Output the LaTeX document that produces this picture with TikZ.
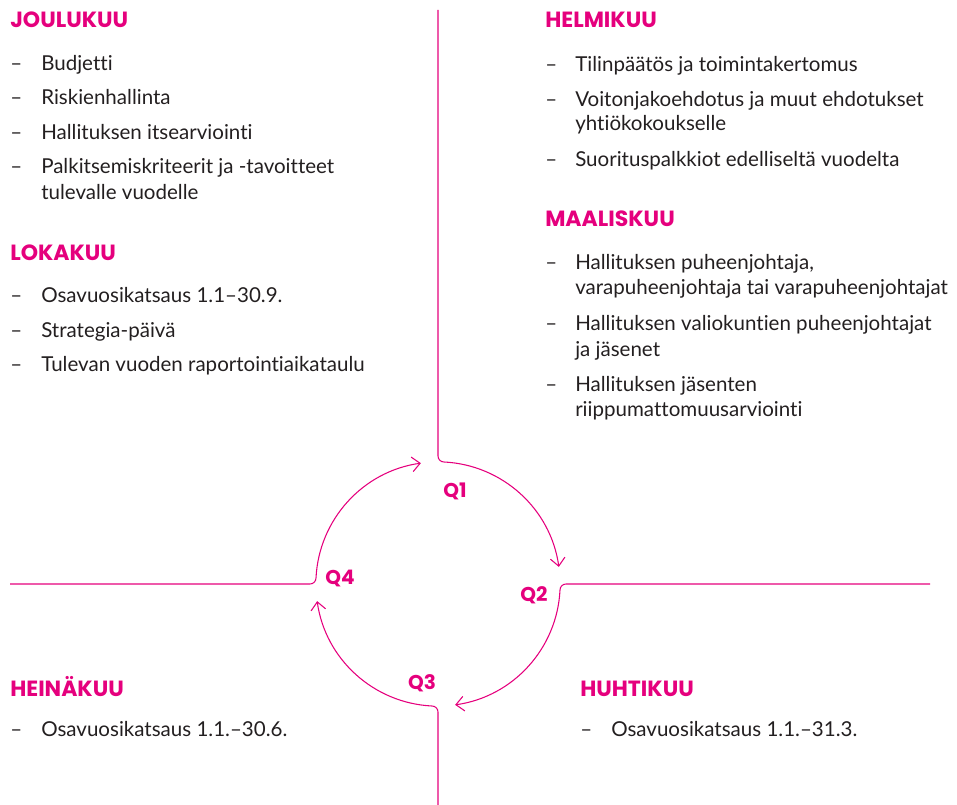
\documentclass[tikz,border=0pt]{standalone}
\usepackage{fontspec}
\setmainfont{Lato}[Ligatures=NoCommon]
\newfontfamily\hfont{Poppins}
\usetikzlibrary{arrows.meta}
\definecolor{mag}{HTML}{E5007D}
\definecolor{txt}{HTML}{231F20}
\newcommand{\quadrant}[3]{% rotation, line length (px from centre), arrow end angle
  \begin{scope}[rotate=#1]
    \draw[ring,-{Straight Barb[length=6pt,width=11pt,line width=0.8pt]}]
      (0,#2) -- (0,128) arc[start angle=180,end angle=270,radius=4.5pt]
      arc[start angle=87.2,end angle=#3,radius=91.5pt];
  \end{scope}}
\begin{document}
\begin{tikzpicture}[x=0.75pt,y=0.75pt,
  head/.style={anchor=base west,inner sep=0,text=mag,font=\hfont\bfseries\fontsize{16.5}{18}\selectfont},
  item/.style={anchor=base west,inner sep=0,text=txt,font=\fontsize{15.4}{17}\selectfont},
  ql/.style={inner sep=0,text=mag,font=\hfont\bfseries\fontsize{15}{17}\selectfont},
  ring/.style={draw=mag,line width=0.8pt}]
\useasboundingbox (0,0) rectangle (957,-805);

% ---- left top
\node[head] (jh) at (10,-28) {JOULUKUU};
\node[item] (j1d) at (10,-71) {–};  \node[item] (j1) at (41,-71) {Budjetti};
\node[item] (j2d) at (10,-105) {–}; \node[item] (j2) at (41,-105) {Riskienhallinta};
\node[item] (j3d) at (10,-140) {–}; \node[item] (j3) at (41,-140) {Hallituksen itsearviointi};
\node[item] (j4d) at (10,-174) {–}; \node[item] (j4) at (41,-174) {Palkitsemiskriteerit ja -tavoitteet};
\node[item] (j4b) at (41,-200) {tulevalle vuodelle};

\node[head] (lh) at (10,-261) {LOKAKUU};
\node[item] (l1d) at (10,-303) {–}; \node[item] (l1) at (41,-303) {Osavuosikatsaus 1.1–30.9.};
\node[item] (l2d) at (10,-338) {–}; \node[item] (l2) at (41,-338) {Strategia-päivä};
\node[item] (l3d) at (10,-372) {–}; \node[item] (l3) at (41,-372) {Tulevan vuoden raportointiaikataulu};

% ---- right top
\node[head] (hh) at (545,-28) {HELMIKUU};
\node[item] (h1d) at (545,-72) {–}; \node[item] (h1) at (575,-72) {Tilinpäätös ja toimintakertomus};
\node[item] (h2d) at (545,-107) {–}; \node[item] (h2) at (575,-107) {Voitonjakoehdotus ja muut ehdotukset};
\node[item] (h2b) at (575,-131) {yhtiökokoukselle};
\node[item] (h3d) at (545,-167) {–}; \node[item] (h3) at (575,-167) {Suorituspalkkiot edelliseltä vuodelta};

\node[head] (mh) at (545,-227) {MAALISKUU};
\node[item] (m1d) at (545,-270) {–}; \node[item] (m1) at (575,-270) {Hallituksen puheenjohtaja,};
\node[item] (m1b) at (575,-295) {varapuheenjohtaja tai varapuheenjohtajat};
\node[item] (m2d) at (545,-331) {–}; \node[item] (m2) at (575,-331) {Hallituksen valiokuntien puheenjohtajat};
\node[item] (m2b) at (575,-357) {ja jäsenet};
\node[item] (m3d) at (545,-392) {–}; \node[item] (m3) at (575,-392) {Hallituksen jäsenten};
\node[item] (m3b) at (575,-417) {riippumattomuusarviointi};

% ---- bottom
\node[head] (eh) at (10,-696) {HEINÄKUU};
\node[item] (e1d) at (10,-736) {–}; \node[item] (e1) at (41,-736) {Osavuosikatsaus 1.1.–30.6.};
\node[head] (uh) at (580,-696) {HUHTIKUU};
\node[item] (u1d) at (580,-736) {–}; \node[item] (u1) at (611,-736) {Osavuosikatsaus 1.1.–31.3.};

% ---- cycle
\begin{scope}[shift={(438,-584)}]
  \quadrant{0}{574}{8}
  \quadrant{-90}{492}{8}
  \quadrant{-180}{221}{8}
  \quadrant{90}{428}{8}
\end{scope}
\node[ql] (q1) at (455,-491) {Q1};
\node[ql] (q2) at (534,-595) {Q2};
\node[ql] (q3) at (422,-683) {Q3};
\node[ql] (q4) at (340,-578) {Q4};
\end{tikzpicture}
\end{document}
